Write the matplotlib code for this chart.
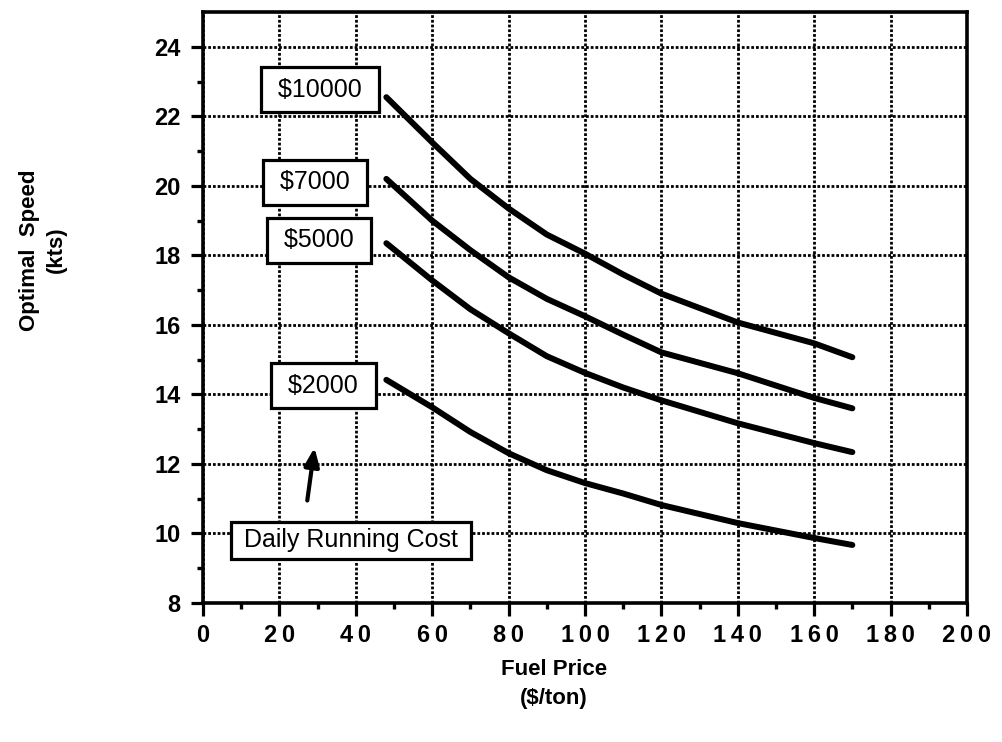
import matplotlib
matplotlib.use('Agg')
import matplotlib.pyplot as plt

plt.rcParams['font.family'] = ['Liberation Sans', 'DejaVu Sans']

# Données
fuel_price = [48, 60, 70, 80, 90, 100, 110, 120, 140, 160, 170]
speed_10000 = [22.55, 21.25, 20.2, 19.35, 18.6, 18.05, 17.45, 16.9, 16.07, 15.47, 15.07]
speed_7000 = [20.2, 19.0, 18.15, 17.37, 16.75, 16.25, 15.72, 15.21, 14.61, 13.9, 13.6]
speed_5000 = [18.35, 17.28, 16.45, 15.76, 15.1, 14.62, 14.2, 13.83, 13.17, 12.6, 12.34]
speed_2000 = [14.42, 13.63, 12.92, 12.31, 11.82, 11.45, 11.15, 10.82, 10.3, 9.87, 9.67]

series = [speed_10000, speed_7000, speed_5000, speed_2000]
labels = ['$10000', '$7000', '$5000', '$2000']
label_x = [30.6, 29.3, 30.4, 31.5]
label_y = [22.77, 20.1, 18.43, 14.25]

x_ticks = list(range(0, 201, 20))
y_ticks = list(range(8, 25, 2))

fig = plt.figure(figsize=(10.02, 7.42), dpi=100)
ax = fig.add_axes([0.2026, 0.1873, 0.7624, 0.7965])

for s in series:
    ax.plot(fuel_price, s, color='black', linewidth=4.3, solid_capstyle='round')

box = dict(boxstyle='square,pad=0.42', facecolor='white', edgecolor='black', linewidth=2.3)
for lab, lx, ly in zip(labels, label_x, label_y):
    ax.text(lx, ly, ' ' + lab + ' ', fontsize=18, ha='center', va='center', bbox=box, zorder=5)

ax.text(38.7, 9.8, ' Daily Running Cost ', fontsize=18, ha='center', va='center',
        bbox=dict(boxstyle='square,pad=0.25', facecolor='white', edgecolor='black', linewidth=2.3),
        zorder=5)
ax.annotate('', xy=(29.3, 12.55), xytext=(27.2, 10.87),
            arrowprops=dict(arrowstyle='-|>,head_length=1.1,head_width=0.45',
                            color='black', linewidth=3))

ax.set_xlim(0, 200)
ax.set_ylim(8, 25)
ax.set_xticks(x_ticks)
ax.set_yticks(y_ticks)
ax.set_xticks(range(10, 200, 20), minor=True)
ax.set_yticks(range(9, 25, 2), minor=True)
ax.set_xticklabels(['\u2009'.join(str(t)) for t in x_ticks], fontsize=17, fontweight='bold')
ax.set_yticklabels([str(t) for t in y_ticks], fontsize=17, fontweight='bold')
ax.tick_params(which='major', direction='out', length=9, width=2.3)
ax.tick_params(axis='x', which='major', pad=6)
ax.tick_params(axis='y', which='major', pad=7)
ax.tick_params(which='minor', direction='out', length=4.5, width=2.4)

ax.grid(True, which='major', color='black', linestyle=(0, (1, 0.7)), linewidth=2.0)
for sp in ax.spines.values():
    sp.set_linewidth(2.6)

fig.text(0.043, 1 - 250 / 742, 'Optimal  Speed\n(kts)', rotation=90, ha='center', va='center',
         fontsize=16, fontweight='bold', multialignment='center', linespacing=1.4)
fig.text(0.553, 1 - 684 / 742, 'Fuel Price\n($/ton)', ha='center', va='center',
         fontsize=16, fontweight='bold', multialignment='center', linespacing=1.45)

fig.savefig('out.png', dpi=100)
